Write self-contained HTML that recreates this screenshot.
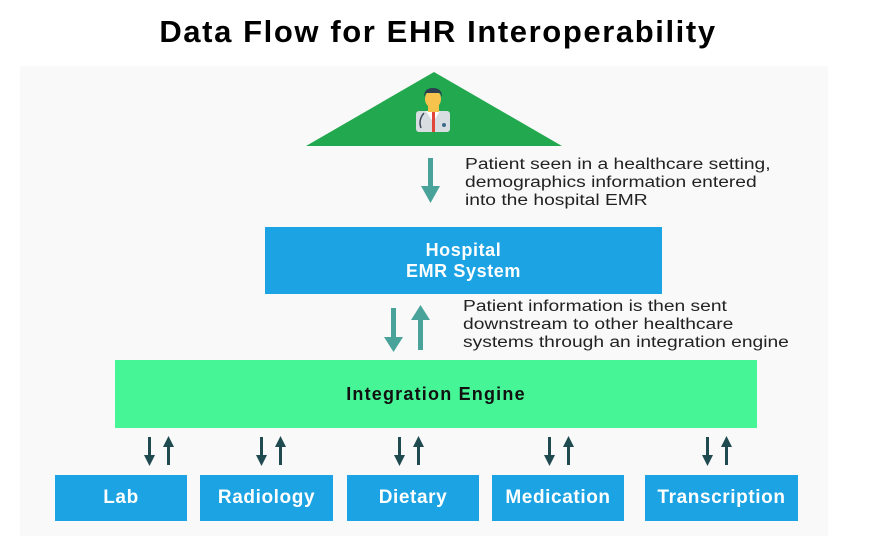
<!DOCTYPE html>
<html><head><style>
body{margin:0;width:882px;height:550px;background:#fff;position:relative;overflow:hidden;font-family:"Liberation Sans",sans-serif}
.a{position:absolute}
.panel{left:20px;top:66px;width:808px;height:470px;background:#f9f9f9}
h1{position:absolute;left:0;width:876px;top:14px;margin:0;text-align:center;font-size:31px;font-weight:bold;color:#000;letter-spacing:1.6px}
.box{position:absolute;background:#1ba3e3;color:#fff;font-weight:bold;display:flex;align-items:center;justify-content:center;text-align:center}
.cap{position:absolute;font-size:15.5px;line-height:18px;color:#222;transform:scaleX(1.24);transform-origin:0 0;white-space:nowrap}
</style></head><body>
<div class="a panel"></div>
<h1>Data Flow for EHR Interoperability</h1>
<svg class="a" style="left:0;top:0" width="882" height="550">
<polygon points="434,72 306,146 562,146" fill="#22a84e"/>
<rect x="416" y="111" width="34" height="21" rx="3" fill="#d8dde2"/>
<polygon points="426,111 440,111 433,122" fill="#fff"/>
<rect x="432" y="112" width="3" height="20" fill="#e2463a"/>
<rect x="428" y="104" width="11" height="8" fill="#f4c24a"/>
<ellipse cx="433" cy="99" rx="8" ry="9" fill="#f6c34c"/>
<path d="M424 97 Q424 88 433 88 Q442 88 442 97 L440 93 L426 93Z" fill="#2c3e50"/>
<path d="M424 113 Q418 120 421 128" stroke="#3c4a5a" stroke-width="1.5" fill="none"/>
<circle cx="444" cy="125" r="2" fill="#3c6b8a"/>
<g fill="#4aa39a">
<rect x="428" y="158" width="5" height="30"/><polygon points="421,186 440,186 430.5,203"/>
<rect x="391" y="308" width="5" height="32"/><polygon points="384,337 403,337 393.5,352"/>
<rect x="418" y="318" width="5" height="32"/><polygon points="411,320 430,320 420.5,305"/>
</g>
<g fill="#1f4a50">
<g id="p"><rect x="148" y="437" width="3" height="20"/><polygon points="144,455 155,455 149.5,466"/><rect x="167" y="445" width="3" height="20"/><polygon points="163,447 174,447 168.5,436"/></g>
<use href="#p" x="112"/><use href="#p" x="250"/><use href="#p" x="400"/><use href="#p" x="558"/>
</g>
</svg>
<div class="cap" style="left:465px;top:156px">Patient seen in a healthcare setting,<br>demographics information entered<br>into the hospital EMR</div>
<div class="box" style="left:265px;top:227px;width:397px;height:67px;font-size:18px;line-height:21px;letter-spacing:0.6px">Hospital<br>EMR System</div>
<div class="cap" style="left:463px;top:298px">Patient information is then sent<br>downstream to other healthcare<br>systems through an integration engine</div>
<div class="box" style="left:115px;top:360px;width:642px;height:68px;background:#45f596;color:#111;font-size:18px;letter-spacing:1.2px">Integration Engine</div>
<div class="box" style="left:55px;top:475px;width:132px;height:46px;font-size:19px;letter-spacing:0.6px">Lab</div>
<div class="box" style="left:200px;top:475px;width:133px;height:46px;font-size:19px;letter-spacing:0.6px">Radiology</div>
<div class="box" style="left:347px;top:475px;width:132px;height:46px;font-size:19px;letter-spacing:0.6px">Dietary</div>
<div class="box" style="left:492px;top:475px;width:132px;height:46px;font-size:19px;letter-spacing:0.6px">Medication</div>
<div class="box" style="left:645px;top:475px;width:153px;height:46px;font-size:19px;letter-spacing:0.6px">Transcription</div>
</body></html>
